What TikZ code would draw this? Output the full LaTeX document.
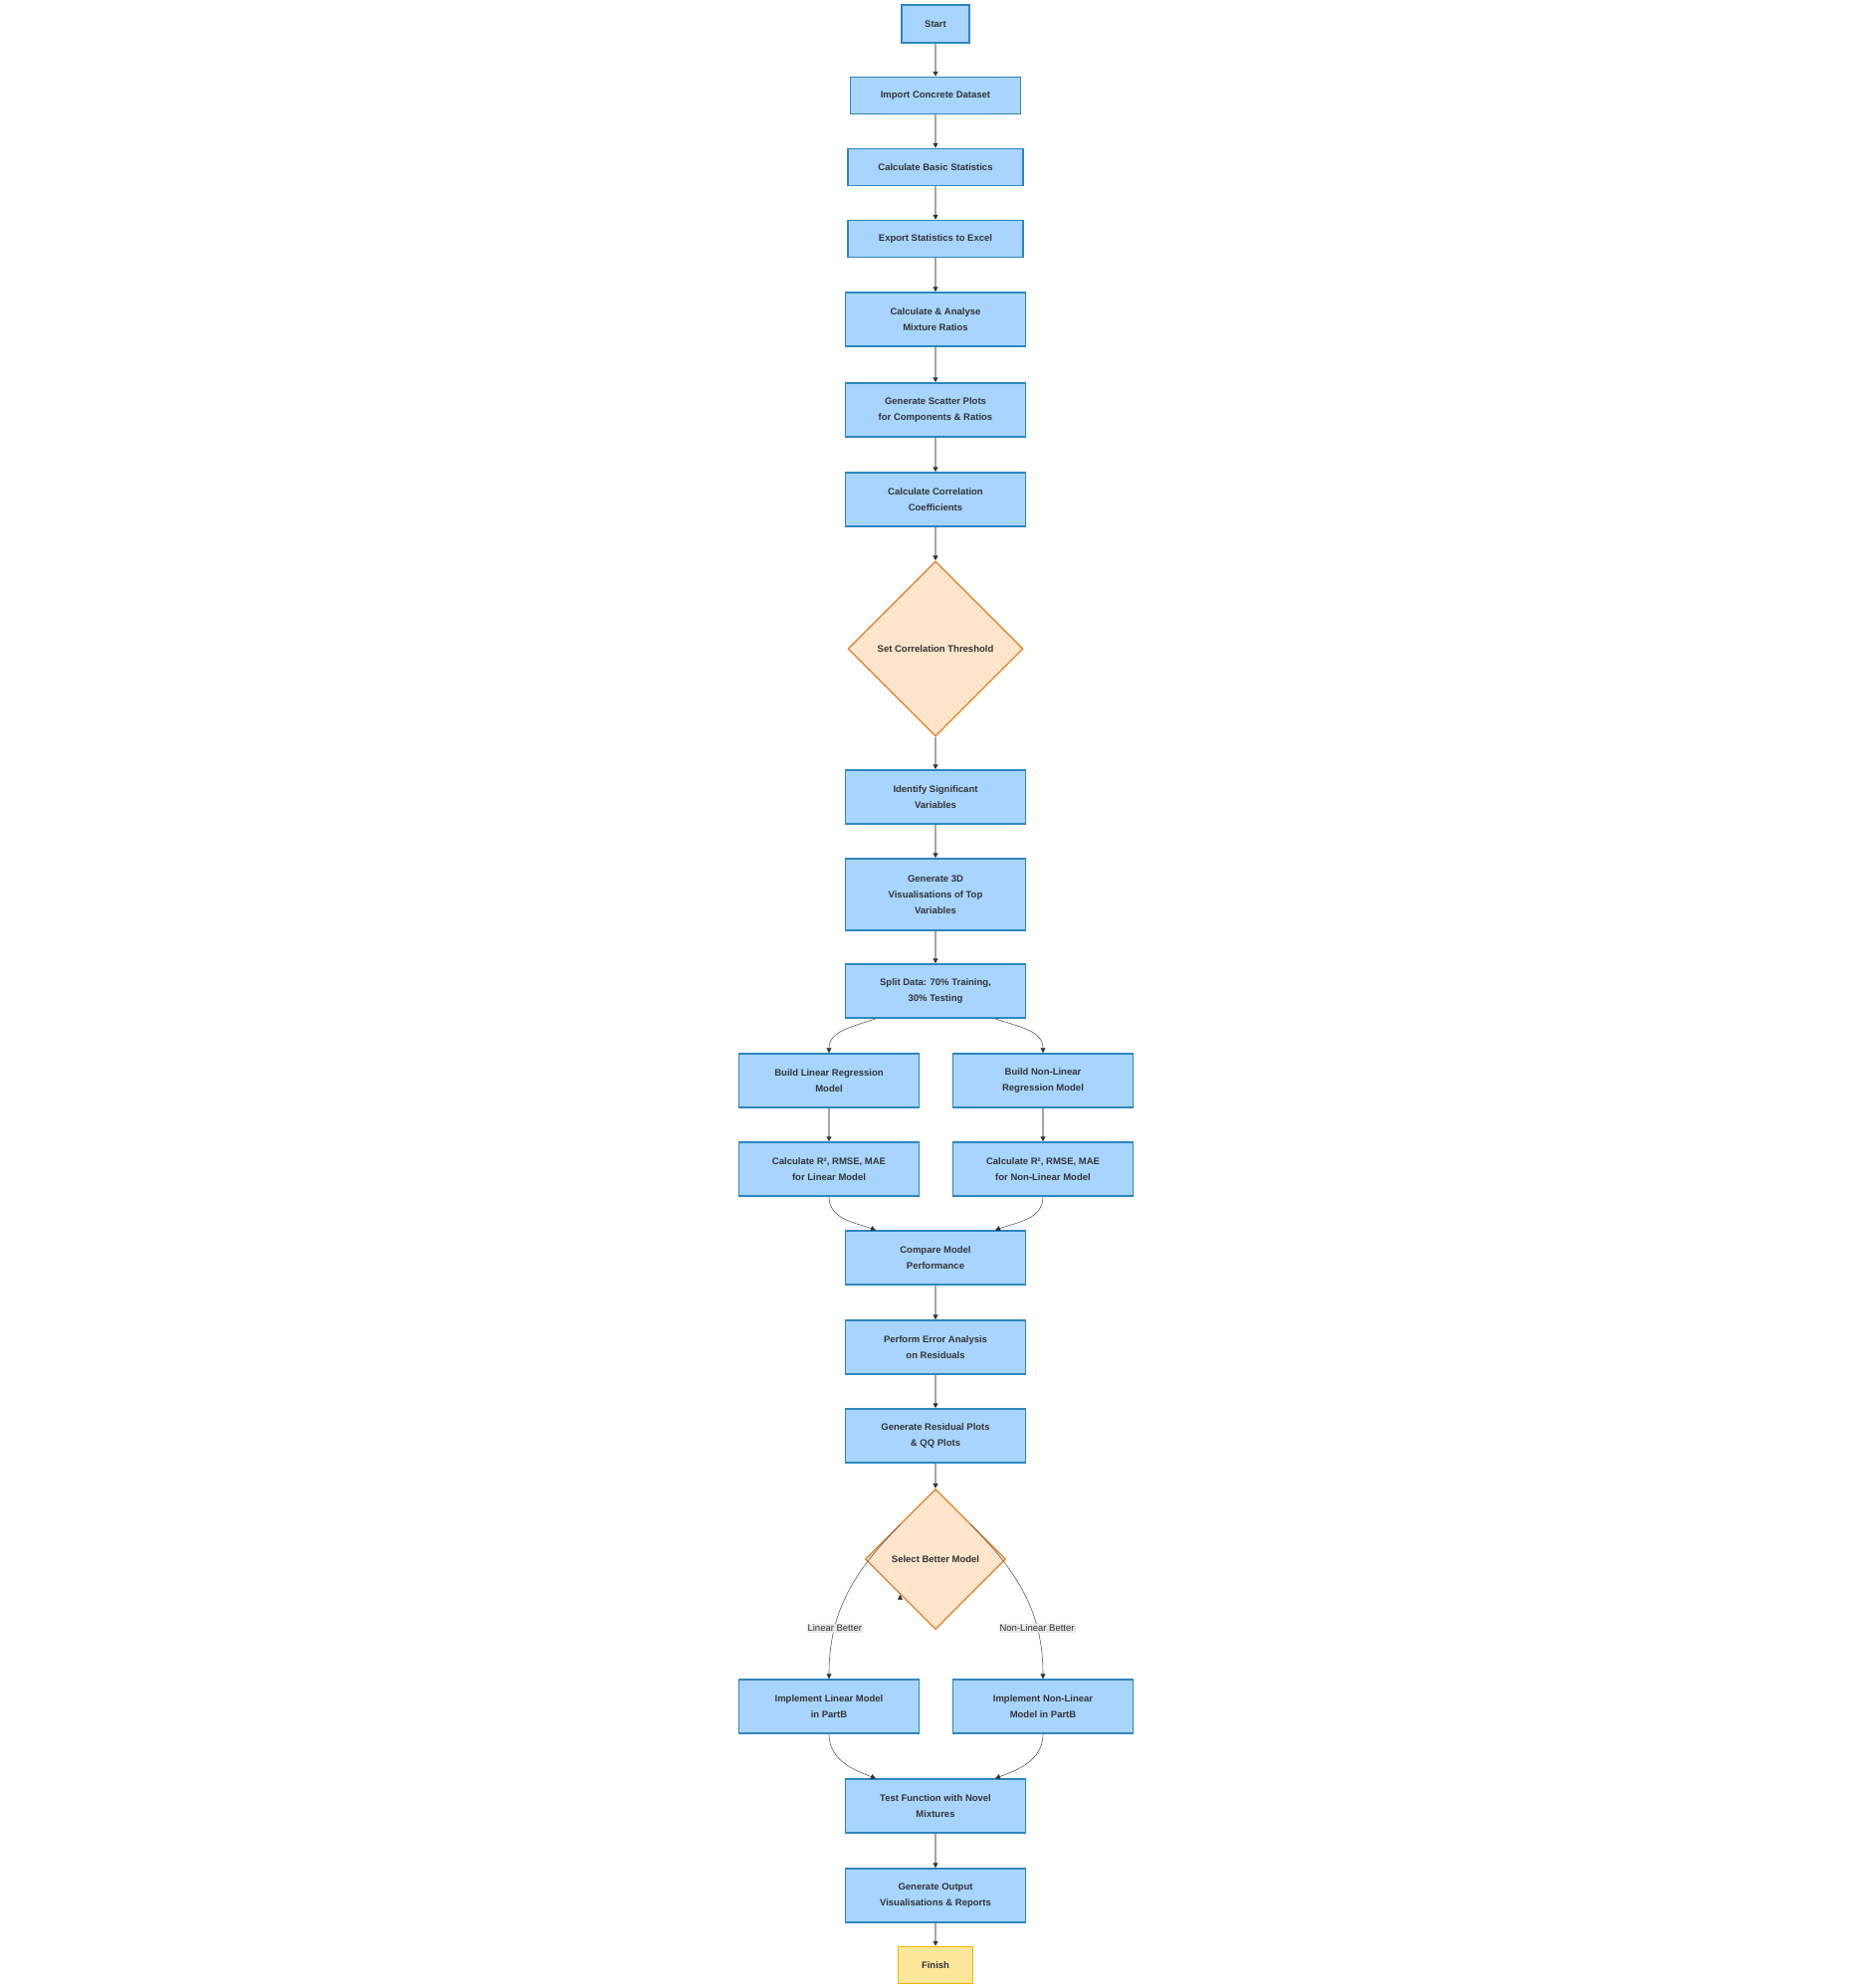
\documentclass[tikz,border=0pt]{standalone}
\usepackage{fontspec}
\setmainfont{Liberation Sans}
\usetikzlibrary{shapes.geometric,arrows.meta}
\definecolor{bfill}{HTML}{A8D5FF}
\definecolor{bline}{HTML}{2E86C1}
\definecolor{dfill}{HTML}{FFE5CC}
\definecolor{dline}{HTML}{E67E22}
\definecolor{ffill}{HTML}{FCE79A}
\definecolor{fline}{HTML}{F4B400}
\definecolor{tx}{HTML}{333333}
\begin{document}
\begin{tikzpicture}[x=1pt,y=-1pt,
  box/.style={draw=bline,fill=bfill,line width=1.5pt,text=tx,font=\fontsize{9.5}{16}\selectfont\bfseries,align=center,minimum width=181pt,minimum height=54pt,inner sep=0pt},
  dia/.style={diamond,draw=dline,fill=dfill,line width=1.3pt,text=tx,font=\fontsize{9.5}{16}\selectfont\bfseries,inner sep=0pt,aspect=1},
  lab/.style={fill=gray!18,text=tx,font=\fontsize{9.5}{12}\selectfont,inner sep=1pt},
  arr/.style={draw=gray!70,line width=1.2pt,-{Triangle[length=5pt,width=5pt,color=tx]}},
  carr/.style={draw=tx!80,line width=0.6pt,-{Triangle[length=5pt,width=5pt,color=tx]}}]
\useasboundingbox (0,0) rectangle (1880,1998);
\node[box,minimum width=68pt,minimum height=38pt] (start) at (940,24) {Start};
\node[box,minimum width=171pt,minimum height=37pt] (imp) at (940,96) {Import Concrete Dataset};
\node[box,minimum width=176pt,minimum height=37pt] (basic) at (940,168) {Calculate Basic Statistics};
\node[box,minimum width=176pt,minimum height=37pt] (exp) at (940,240) {Export Statistics to Excel};
\node[box] (ratio) at (940,321) {Calculate \& Analyse\\Mixture Ratios};
\node[box] (scat) at (940,412) {Generate Scatter Plots\\for Components \& Ratios};
\node[box] (corr) at (940,502) {Calculate Correlation\\Coefficients};
\node[dia,minimum width=176pt,minimum height=176pt] (thr) at (940,652) {Set Correlation Threshold};
\node[box] (ident) at (940,801) {Identify Significant\\Variables};
\node[box,minimum height=72pt] (viz) at (940,899) {Generate 3D\\Visualisations of Top\\Variables};
\node[box] (split) at (940,996) {Split Data: 70\% Training,\\30\% Testing};
\node[box] (lin) at (833,1086) {Build Linear Regression\\Model};
\node[box] (nlin) at (1048,1086) {Build Non-Linear\\Regression Model};
\node[box] (rlin) at (833,1175) {Calculate R², RMSE, MAE\\for Linear Model};
\node[box] (rnlin) at (1048,1175) {Calculate R², RMSE, MAE\\for Non-Linear Model};
\node[box] (cmp) at (940,1264) {Compare Model\\Performance};
\node[box] (err) at (940,1354) {Perform Error Analysis\\on Residuals};
\node[box] (res) at (940,1443) {Generate Residual Plots\\\& QQ Plots};
\node[dia,minimum width=141pt,minimum height=141pt] (sel) at (940,1567) {Select Better Model};
\node[box] (ilin) at (833,1715) {Implement Linear Model\\in PartB};
\node[box] (inlin) at (1048,1715) {Implement Non-Linear\\Model in PartB};
\node[box] (test) at (940,1815) {Test Function with Novel\\Mixtures};
\node[box] (out) at (940,1905) {Generate Output\\Visualisations \& Reports};
\node[box,draw=fline,fill=ffill,minimum width=75pt,minimum height=37pt] (fin) at (940,1975) {Finish};
\foreach \a/\b in {start/imp,imp/basic,basic/exp,exp/ratio,ratio/scat,scat/corr,corr/thr,thr/ident,ident/viz,viz/split,lin/rlin,nlin/rnlin,cmp/err,err/res,res/sel,test/out,out/fin}
  \draw[arr] (\a) -- (\b);
\draw[carr] ([xshift=-60pt]split.south) to[out=-160,in=90] (lin.north);
\draw[carr] ([xshift=60pt]split.south) to[out=-20,in=90] (nlin.north);
\draw[carr] (rlin.south) to[out=-90,in=160] ([xshift=-60pt]cmp.north);
\draw[carr] (rnlin.south) to[out=-90,in=20] ([xshift=60pt]cmp.north);
\draw[carr] (ilin.south) to[out=-90,in=160] ([xshift=-60pt]test.north);
\draw[carr] (inlin.south) to[out=-90,in=20] ([xshift=60pt]test.north);
\draw[carr] (sel.south west) ++(0,0) coordinate (sw);
\draw[carr] ([shift={(-35pt,35pt)}]sel.center) to[out=-135,in=90] node[lab,pos=0.72] {Linear Better} (ilin.north);
\draw[carr] ([shift={(35pt,35pt)}]sel.center) to[out=-45,in=90] node[lab,pos=0.72] {Non-Linear Better} (inlin.north);
\end{tikzpicture}
\end{document}
